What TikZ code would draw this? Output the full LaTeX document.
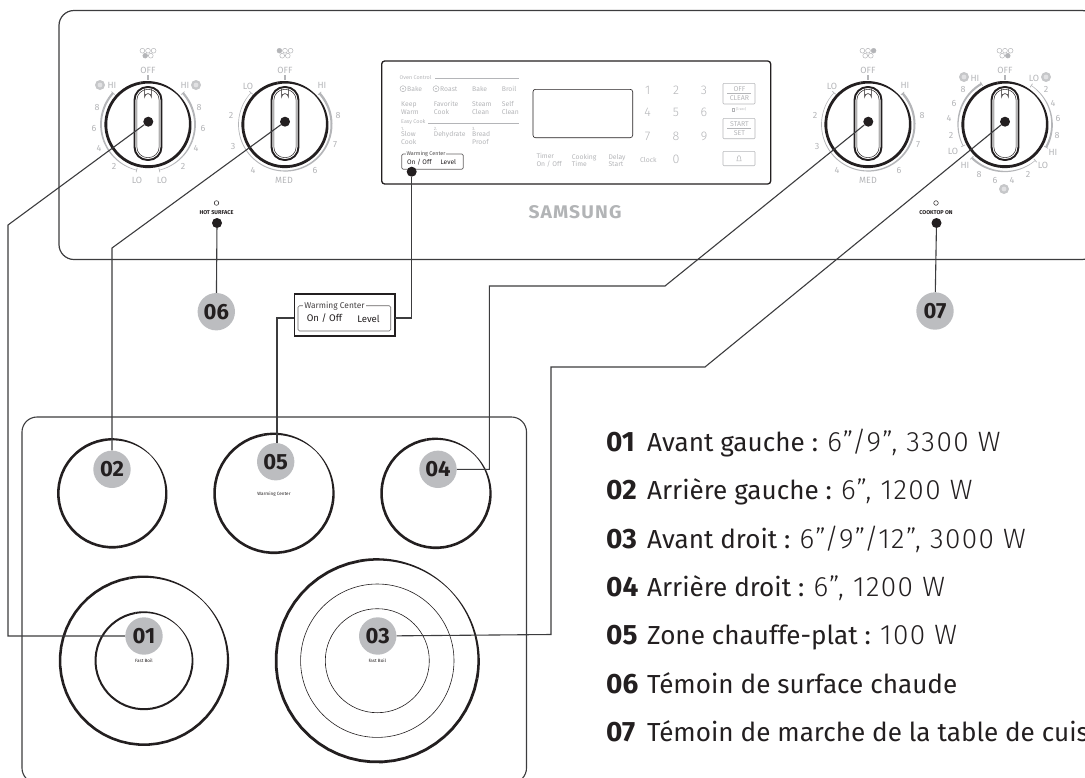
\documentclass[tikz,border=0pt]{standalone}
\usepackage{fontspec}
\setmainfont{Fira Sans}
\newfontfamily\lightf[UprightFont=* Light,LetterSpace=5]{Fira Sans}
\newfontfamily\spacedf[LetterSpace=6,UprightFont=* Bold]{Fira Sans}
\definecolor{ink}{HTML}{231F20}
\definecolor{badgegray}{HTML}{BCBDC0}
\definecolor{txtgray}{HTML}{B4B5B8}
\definecolor{leadgray}{HTML}{3C3C3E}
\tikzset{
  leader/.style={draw=leadgray,line width=1.1pt,line join=miter},
  badge/.style={circle,fill=badgegray,minimum size=37.4pt,inner sep=0pt,text=ink,font=\fontsize{22}{22}\selectfont\bfseries},
  dotpin/.style={circle,fill=ink,minimum size=10pt,inner sep=0pt},
  tinyc/.style={text=txtgray,inner sep=0pt,font=\fontsize{7}{7.6}\selectfont,align=center},
  tinyl/.style={text=txtgray,inner sep=0pt,font=\fontsize{6.8}{7.4}\selectfont,align=left,anchor=west},
  dialtxt/.style={text=txtgray,inner sep=0pt,font=\fontsize{9}{9}\selectfont},
  keydigit/.style={text=txtgray,inner sep=0pt,font=\fontsize{12.5}{12.5}\selectfont\lightf},
  legendtxt/.style={anchor=base west,inner sep=0pt,text=ink,font=\fontsize{26.1}{26.1}\selectfont},
  minitxt/.style={inner sep=0pt,text=ink,font=\fontsize{4.6}{4.6}\selectfont},
  lamptxt/.style={inner sep=0pt,text=ink,font=\fontsize{5.6}{5.6}\selectfont\bfseries},
  btn/.style={draw=txtgray,line width=.6pt,rounded corners=1pt},
}
\newcommand{\lnum}[1]{\makebox[41pt][l]{\fontsize{28}{28}\selectfont\bfseries #1}}
\newcommand{\lval}[1]{{\fontsize{28}{28}\selectfont\lightf #1}}
% tapered ring segment: cx cy r a b w1 w2 colour
\newcommand{\ringseg}[8]{%
  \fill[#8] plot[domain=#4:#5,samples=40] ({#1+(#3+(#6+(#7-#6)*(\x-#4)/(#5-#4))/2)*cos(\x)},{#2-(#3+(#6+(#7-#6)*(\x-#4)/(#5-#4))/2)*sin(\x)})
   -- plot[domain=#5:#4,samples=40] ({#1+(#3-(#6+(#7-#6)*(\x-#4)/(#5-#4))/2)*cos(\x)},{#2-(#3-(#6+(#7-#6)*(\x-#4)/(#5-#4))/2)*sin(\x)}) -- cycle;}
% ring that is thin on the upper right
\newcommand{\burner}[4]{%
  \ringseg{#1}{#2}{#3}{45}{100}{.7}{#4}{ink}%
  \ringseg{#1}{#2}{#3}{100}{350}{#4}{#4}{ink}%
  \ringseg{#1}{#2}{#3}{350}{405}{#4}{.7}{ink}}
% small end mark on a scale arc
\newcommand{\stopmark}[4]{\draw[txtgray,line width=.7pt] ({#1+(#3-2.2)*cos(#4)},{#2-(#3-2.2)*sin(#4)}) -- ({#1+(#3+2.2)*cos(#4)},{#2-(#3+2.2)*sin(#4)});}
% knob: cx cy
\newcommand{\knob}[2]{%
  \ringseg{#1}{#2}{42.2}{45}{100}{1.2}{2.8}{ink}%
  \ringseg{#1}{#2}{42.2}{100}{350}{2.8}{2.8}{ink}%
  \ringseg{#1}{#2}{42.2}{350}{405}{2.8}{1.2}{ink}%
  \draw[ink,line width=1.9pt,rounded corners=13pt] (#1-13.5,87) rectangle (#1+13.5,160);
  \draw[ink,line width=.5pt,rounded corners=11pt] (#1-11.2,89.3) rectangle (#1+11.2,157.7);
  \draw[ink,line width=.6pt] (#1-3.4,88.5) -- (#1-3.4,97) arc[start angle=180,end angle=360,radius=3.4] -- (#1+3.4,88.5);
  \fill[txtgray] (#1-1.3,75) rectangle (#1+1.3,80);
  \node[dialtxt] at (#1,70) {OFF};
  \foreach \dx in {-5.6,0,5.6} \draw[txtgray,line width=.5pt] (#1+\dx,50.7) circle (2.4);
  \foreach \dx in {-2.8,2.8} \draw[txtgray,line width=.5pt] (#1+\dx,55.7) circle (2.4);}
\newcommand{\elem}[2]{\fill[badgegray!85] (#1,#2) circle (5); \fill[badgegray!45] (#1,#2) circle (2.4);}
\newcommand{\fan}[2]{\draw[txtgray,line width=.5pt] (#1,#2) circle (3); \fill[txtgray] (#1,#2) circle (.9);}
\begin{document}
\begin{tikzpicture}[x=1pt,y=-1pt]
\useasboundingbox (0,0) rectangle (1085,777);
\clip (0,0) rectangle (1085,777);
% console and cooktop outlines
\draw[leadgray,line width=1.2pt,rounded corners=15pt] (1097,100) -- (1097,10.5) -- (59,10.5) -- (59,259.5) -- (1097,259.5) -- (1097,100);
\draw[leadgray,line width=1.1pt,rounded corners=15pt] (22,783) -- (22,417) -- (526.5,417) -- (526.5,783) -- cycle;
% scale arcs
\ringseg{148}{124.5}{47}{138}{200}{2.2}{1.6}{txtgray}\ringseg{148}{124.5}{47}{200}{256}{1.6}{.5}{txtgray}
\ringseg{148}{124.5}{47}{42}{-20}{2.2}{1.6}{txtgray}\ringseg{148}{124.5}{47}{-20}{-76}{1.6}{.5}{txtgray}
\stopmark{148}{124.5}{47}{256}\stopmark{148}{124.5}{47}{-76}\stopmark{148}{124.5}{47}{138}\stopmark{148}{124.5}{47}{42}
\ringseg{285}{124.5}{46.5}{137}{270}{.5}{1.1}{txtgray}\ringseg{285}{124.5}{46.5}{42}{-90}{2.4}{1.2}{txtgray}
\stopmark{285}{124.5}{46.5}{137}\stopmark{285}{124.5}{46.5}{42}
\ringseg{868}{124.5}{46.5}{137}{270}{.5}{1.1}{txtgray}\ringseg{868}{124.5}{46.5}{42}{-90}{2.4}{1.2}{txtgray}
\stopmark{868}{124.5}{46.5}{137}\stopmark{868}{124.5}{46.5}{42}
\ringseg{1005}{124.5}{47}{120}{207}{2.2}{.8}{txtgray}\ringseg{1005}{124.5}{47}{56}{-29}{.5}{2.2}{txtgray}\ringseg{1005}{124.5}{47}{225}{310}{2.2}{.5}{txtgray}
\stopmark{1005}{124.5}{47}{120}\stopmark{1005}{124.5}{47}{207}\stopmark{1005}{124.5}{47}{56}\stopmark{1005}{124.5}{47}{-29}\stopmark{1005}{124.5}{47}{225}\stopmark{1005}{124.5}{47}{310}
% knobs
\knob{148}{124.5}\knob{285}{124.5}\knob{868}{124.5}\knob{1005}{124.5}
\fill[txtgray] (145.2,55.7) circle (2.4) (279.4,50.7) circle (2.4) (873.6,50.7) circle (2.4) (1007.8,55.7) circle (2.4);
% dial labels
\elem{100}{85}\elem{196}{85}
\foreach \x/\y/\t in {112/85/HI,185/85/HI,97/107/8,94/128/6,99/148/4,114/166/2,137/180/LO,162/180/LO,183/166/2,196/148/4,203/128/6,199/107/8,
 248/86/LO,322/85/HI,231/115/2,233/146/3,253/170/4,284/180/MED,315/170/6,335/145/7,338/115/8,
 832/86/LO,905/85/HI,815/115/2,817/146/3,837/170/4,868/180/MED,899/170/6,918/145/7,922/115/8,
 975/78/HI,1034/78/LO,963/89/8,954/103/6,949/118/4,951/135/2,953/151/LO,965/165/HI,979/174/8,995/180/6,1012/180/4,1028/174/2,1043/165/LO,1053/152/HI,1057/135/8,1058/118/6,1053/103/4,1046/89/2}
  \node[dialtxt] at (\x,\y) {\t};
\elem{964}{77}\elem{1046}{77}\elem{1004}{189}
% control panel
\draw[ink,line width=1.3pt,rounded corners=3pt] (381.7,61) rectangle (770.7,184);
\draw[ink,line width=.6pt,rounded corners=2.5pt] (533,89.3) rectangle (632.7,137.7);
\node[tinyl,font=\fontsize{5.4}{6}\selectfont] at (399.5,77.7) {Oven Control};
\draw[txtgray,line width=.6pt] (435,78) -- (519,78);
\node[tinyl,font=\fontsize{5.4}{6}\selectfont] at (401,122) {Easy Cook};
\draw[txtgray,line width=.6pt] (428,123) -- (519,123);
\fan{403}{88.7}\fan{436}{88.7}
\node[tinyl] at (407,88.7) {Bake};
\node[tinyl] at (440,88.7) {Roast};
\node[tinyl] at (472,88.7) {Bake};
\node[tinyl] at (501.7,88.7) {Broil};
\node[tinyl] at (401,108) {Keep\\Warm};
\node[tinyl] at (433.7,108) {Favorite\\Cook};
\node[tinyl] at (472,108) {Steam\\Clean};
\node[tinyl] at (501.7,108) {Self\\Clean};
\node[tinyl,font=\fontsize{4.6}{4.6}\selectfont] at (401,128.7) {1.};
\node[tinyl,font=\fontsize{4.6}{4.6}\selectfont] at (433.7,128.7) {2.};
\node[tinyl,font=\fontsize{4.6}{4.6}\selectfont] at (472,128.7) {3.};
\node[tinyl] at (401,138) {Slow\\Cook};
\node[tinyl] at (433.7,135) {Dehydrate};
\node[tinyl] at (472,138) {Bread\\Proof};
% warming centre key on the panel
\draw[ink!70,line width=.7pt,rounded corners=1.5pt] (401.7,154) rectangle (463.3,169.3);
\node[fill=white,inner sep=.6pt,text=ink!80,font=\fontsize{5.4}{6}\selectfont] at (426,153.7) {Warming Center};
\node[inner sep=0pt,text=ink,font=\fontsize{6.6}{7}\selectfont] at (419.3,162) {On / Off};
\node[inner sep=0pt,text=ink,font=\fontsize{6.6}{7}\selectfont] at (448.3,162) {Level};
% keypad
\foreach \x/\y/\t in {647.7/90/1,676/90/2,704/90/3,647.7/112.7/4,676/112.7/5,704/112.7/6,647.7/136/7,676/136/8,704/136/9,676/159/0}
  \node[keydigit] at (\x,\y) {\t};
\node[tinyl] at (536.3,160.2) {Timer\\On / Off};
\node[tinyl] at (571.7,160.2) {Cooking\\Time};
\node[tinyl] at (608.3,160.2) {Delay\\Start};
\node[tinyl] at (640,160) {Clock};
\draw[btn] (723,83.3) rectangle (755,104);
\draw[btn] (723,118.3) rectangle (755,138.7);
\draw[btn] (723,151.3) rectangle (755,165.7);
\draw[txtgray,line width=.5pt] (727,93.4) -- (751,93.4) (727,128.4) -- (751,128.4);
\node[tinyc] at (739.5,89) {OFF};
\node[tinyc] at (739.5,98.4) {CLEAR};
\node[tinyc] at (739.5,124) {START};
\node[tinyc] at (739.5,133.4) {SET};
\node[tinyc,font=\fontsize{3.6}{4}\selectfont] at (741,109.3) {(3 sec)};
\draw[txtgray,line width=.45pt] (731.8,108) rectangle (734.4,110.8);
\draw[txtgray,line width=.5pt] (736.3,160.8) -- (741.7,160.8) (737,160.8) .. controls (737.6,159.5) and (737,155.8) .. (739,155.6) .. controls (741,155.8) and (740.4,159.5) .. (741,160.8);
% logo
\node[inner sep=0pt,text=badgegray!95!black] at (575,212.3) {\resizebox{93pt}{13pt}{\spacedf SAMSUNG}};
% indicator lamps
\draw[ink,line width=.5pt] (216.5,203) circle (2.3);
\draw[ink,line width=.5pt] (936,203) circle (2.3);
\node[lamptxt] at (216.5,212.5) {HOT SURFACE};
\node[lamptxt] at (936,212.5) {COOKTOP ON};
% burners
\burner{112.3}{493.3}{54}{2.6}
\burner{274}{493.3}{59.5}{2.6}
\burner{436}{493.3}{54.5}{2.6}
\burner{144}{660.7}{84}{2.6}
\burner{144}{660.7}{48.5}{2}
\burner{377.3}{660.7}{101.3}{2.8}
\draw[ink,line width=.6pt] (377.3,660.7) circle (76.7) (377.3,660.7) circle (52);
\node[minitxt] (lw) at (274,494) {Warming Center};
\node[minitxt] (lf1) at (144,661) {Fast Boil};
\node[minitxt] (lf3) at (377.3,661) {Fast Boil};
% pop-out key
\draw[ink,line width=1.6pt] (294.3,294) rectangle (394.7,335.7);
\node[draw=none,minimum width=100.4pt,minimum height=41.7pt,inner sep=0pt] (wbox) at (344.5,314.85) {};
\draw[ink!70,line width=.6pt,rounded corners=1.5pt] (298,305.7) rectangle (390.7,331);
\node[fill=white,inner sep=1pt,text=ink!85,font=\fontsize{8.4}{9}\selectfont] at (334.5,305.7) {Warming Center};
\node[inner sep=0pt,text=ink,font=\fontsize{9.6}{10}\selectfont] at (324.5,318.5) {On / Off};
\node[inner sep=0pt,text=ink,font=\fontsize{9.6}{10}\selectfont] at (368.5,318.5) {Level};
% pins and badges
\node[dotpin] (p1) at (148.3,121.7) {};
\node[dotpin] (p2) at (285,121.7) {};
\node[dotpin] (p4) at (868.3,121.7) {};
\node[dotpin] (p3) at (1005,121.7) {};
\node[dotpin] (pw) at (411.7,171.7) {};
\node[dotpin] (p6) at (217,223) {};
\node[dotpin] (p7) at (936.5,223) {};
\node[badge] (b1) at (144,636) {01};
\node[badge] (b2) at (112,469.3) {02};
\node[badge] (b3) at (377.7,636) {03};
\node[badge] (b4) at (438,469.3) {04};
\node[badge] (b5) at (275.7,461.7) {05};
\node[badge] (b6) at (216.3,311.7) {06};
\node[badge] (b7) at (935,311) {07};
% connectors
\coordinate (c1a) at (8,225); \coordinate (c1b) at (8,636);
\coordinate (c2a) at (112,248);
\coordinate (c4a) at (665,286); \coordinate (c4b) at (489.3,286); \coordinate (c4c) at (489.3,469.3);
\coordinate (c3a) at (705,367); \coordinate (c3b) at (551,367); \coordinate (c3c) at (551,634.5);
\coordinate (cwa) at (411.7,318); \coordinate (cwb) at (277,318); \coordinate (cwc) at (277,443);
\draw[leader] (p1) -- (c1a) -- (c1b) -- (b1);
\draw[leader] (p2) -- (c2a) -- (b2);
\draw[leader] (p4) -- (c4a) -- (c4b) -- (c4c) -- (b4);
\draw[leader] (p3) -- (c3a) -- (c3b) -- (c3c) -- (b3);
\draw[leader] (pw) -- (cwa) -- (wbox.east |- cwa);
\draw[leader] (wbox.west |- cwb) -- (cwb) -- (cwc);
\draw[leader] (p6) -- (b6);
\draw[leader] (p7) -- (b7);
% legend
\node[legendtxt] (l1) at (606,451) {\lnum{01}Avant gauche : \lval{6”/9”, 3300 W}};
\node[legendtxt] (l2) at (606,499) {\lnum{02}Arrière gauche : \lval{6”, 1200 W}};
\node[legendtxt] (l3) at (606,548) {\lnum{03}Avant droit : \lval{6”/9”/12”, 3000 W}};
\node[legendtxt] (l4) at (606,596) {\lnum{04}Arrière droit : \lval{6”, 1200 W}};
\node[legendtxt] (l5) at (606,644) {\lnum{05}Zone chauffe-plat : \lval{100 W}};
\node[legendtxt] (l6) at (606,693) {\lnum{06}Témoin de surface chaude};
\node[legendtxt] (l7) at (606,741) {\lnum{07}Témoin de marche de la table de cuis};
\end{tikzpicture}
\end{document}
